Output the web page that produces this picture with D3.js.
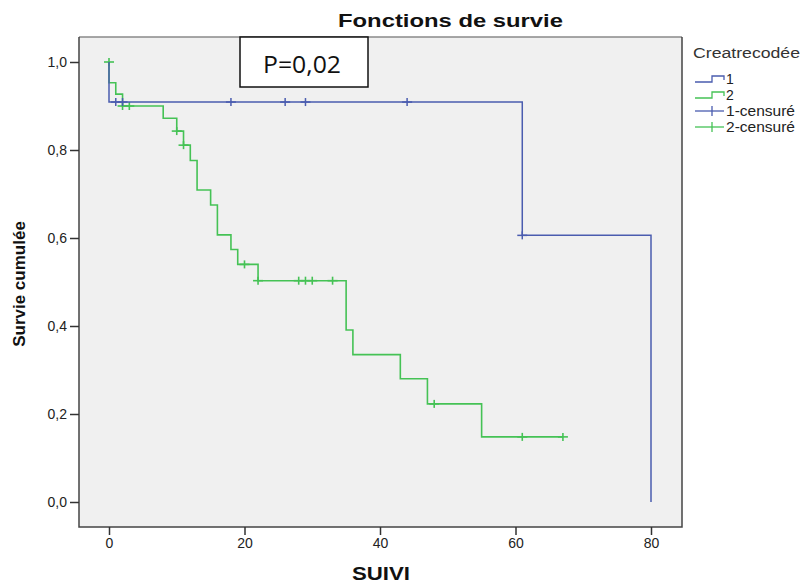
<!DOCTYPE html>
<html>
<head>
<meta charset="utf-8">
<title>Fonctions de survie</title>
<script src="https://d3js.org/d3.v7.min.js"></script>
<style>
  body { margin: 0; background: #fff; font-family: "Liberation Sans", Arial, sans-serif; }
  .tick-label { font-size: 14px; fill: #222; }
  .axis-title { font-size: 18px; font-weight: bold; fill: #111; }
</style>
</head>
<body>
<div id="chart"></div>
<script>
// group 1 (blue): event times and survival after each event
var g1Times = [0, 61, 80];
var g1Surv  = [0.909, 0.606, 0.0];
var g1End   = 80;
var g1CensT = [1, 2, 18, 26, 29, 44, 61];
var g1CensS = [0.909, 0.909, 0.909, 0.909, 0.909, 0.909, 0.606];

// group 2 (green)
var g2Times = [0, 1, 2, 8, 10, 11, 12, 13, 15, 16, 18, 19, 22, 35, 36, 43, 47, 55];
var g2Surv  = [0.953, 0.927, 0.900, 0.872, 0.843, 0.811, 0.776, 0.709, 0.675, 0.607,
               0.574, 0.540, 0.503, 0.391, 0.335, 0.280, 0.223, 0.148];
var g2End   = 67;
var g2CensT = [0, 2, 3, 10, 11, 20, 22, 28, 29, 30, 33, 48, 61, 67];
var g2CensS = [1.0, 0.900, 0.900, 0.843, 0.811, 0.540, 0.503, 0.503, 0.503, 0.503, 0.503,
               0.223, 0.148, 0.148];

var xTicks = [0, 20, 40, 60, 80];
var yTicks = [0, 0.2, 0.4, 0.6, 0.8, 1.0];
var legendLabels = ["1", "2", "1-censuré", "2-censuré"];

var W = 808, H = 583;
var box = {left: 79, right: 682, top: 37, bottom: 527};
var blue = "#4a5caf", green = "#45c255";

var svg = d3.select("#chart").append("svg").attr("width", W).attr("height", H);

var x = d3.scaleLinear().domain([0, 80]).range([109, 651]);
var y = d3.scaleLinear().domain([0, 1]).range([502, 62]);

svg.append("rect")
  .attr("x", box.left).attr("y", box.top)
  .attr("width", box.right - box.left).attr("height", box.bottom - box.top)
  .attr("fill", "#f0f0f0");

// frame: top lighter, others dark
svg.append("line").attr("x1", box.left).attr("x2", box.right)
  .attr("y1", box.top).attr("y2", box.top).attr("stroke", "#8a8a8a").attr("stroke-width", 1.5);
svg.append("path")
  .attr("d", "M" + box.left + "," + box.top + "V" + box.bottom + "H" + box.right + "V" + box.top)
  .attr("fill", "none").attr("stroke", "#444").attr("stroke-width", 1.5);

// axes
var yAxis = svg.append("g").attr("transform", "translate(" + box.left + ",0)")
  .call(d3.axisLeft(y).tickValues(yTicks).tickSize(9).tickPadding(3)
    .tickFormat(function(d) { return d3.format(".1f")(d).replace(".", ","); }));
var xAxis = svg.append("g").attr("transform", "translate(0," + box.bottom + ")")
  .call(d3.axisBottom(x).tickValues(xTicks).tickSize(8).tickPadding(3));
[xAxis, yAxis].forEach(function(a) {
  a.select(".domain").remove();
  a.selectAll(".tick line").attr("stroke", "#333").attr("stroke-width", 1.5);
  a.selectAll(".tick text").attr("class", "tick-label")
    .style("font-family", "'Liberation Sans', Arial, sans-serif").style("font-size", "14px");
});

var line = d3.line().curve(d3.curveStepAfter)
  .x(function(d) { return x(d[0]); })
  .y(function(d) { return y(d[1]); });

function stepPoints(times, surv, end) {
  var pts = [[0, 1]];
  times.forEach(function(t, i) { pts.push([t, surv[i]]); });
  pts.push([end, surv[surv.length - 1]]);
  return pts;
}

function drawGroup(times, surv, end, censT, censS, color, width) {
  svg.append("path")
    .datum(stepPoints(times, surv, end))
    .attr("d", line)
    .attr("fill", "none").attr("stroke", color).attr("stroke-width", width);
  var c = svg.append("g").selectAll("g").data(censT).join("g")
    .attr("transform", function(d, i) { return "translate(" + x(d) + "," + y(censS[i]) + ")"; });
  c.append("line").attr("x1", -5).attr("x2", 5).attr("stroke", color).attr("stroke-width", width);
  c.append("line").attr("y1", -4).attr("y2", 4).attr("stroke", color).attr("stroke-width", width);
}

drawGroup(g2Times, g2Surv, g2End, g2CensT, g2CensS, green, 1.6);
drawGroup(g1Times, g1Surv, g1End, g1CensT, g1CensS, blue, 1.5);

// P value box
svg.append("rect").attr("x", 240).attr("y", 37).attr("width", 128).attr("height", 50)
  .attr("fill", "#fff").attr("stroke", "#111").attr("stroke-width", 1.5);
svg.append("text").attr("x", 302).attr("y", 73).attr("text-anchor", "middle")
  .style("font-family", "'Open Sans', 'Liberation Sans', sans-serif").style("font-size", "24px")
  .attr("textLength", 78).attr("lengthAdjust", "spacingAndGlyphs")
  .attr("fill", "#111").text("P=0,02");

// titles
svg.append("text").attr("class", "axis-title").attr("x", 338).attr("y", 27)
  .attr("textLength", 225).attr("lengthAdjust", "spacingAndGlyphs")
  .text("Fonctions de survie");
svg.append("text").attr("class", "axis-title").attr("x", 352).attr("y", 580)
  .attr("textLength", 58).attr("lengthAdjust", "spacingAndGlyphs")
  .text("SUIVI");
svg.append("text").attr("class", "axis-title").style("font-size", "17px")
  .attr("transform", "translate(25,284) rotate(-90)")
  .attr("text-anchor", "middle").text("Survie cumulée");

// legend
var lg = svg.append("g").attr("transform", "translate(693,0)");
lg.append("text").attr("x", 0).attr("y", 58).style("font-size", "14px").attr("fill", "#333")
  .attr("textLength", 107).attr("lengthAdjust", "spacingAndGlyphs")
  .text("Creatrecodée");
var ly = [79, 95, 111, 127];
var lcol = [blue, green, blue, green];
legendLabels.forEach(function(lab, i) {
  var yy = ly[i];
  if (i < 2) {
    lg.append("path")
      .attr("d", "M2," + (yy + 3) + "H19V" + (yy - 3) + "H31V" + (yy + 1))
      .attr("fill", "none").attr("stroke", lcol[i]).attr("stroke-width", 1.3);
  } else {
    lg.append("line").attr("x1", 2).attr("x2", 31).attr("y1", yy).attr("y2", yy)
      .attr("stroke", lcol[i]).attr("stroke-width", 1.3);
    lg.append("line").attr("x1", 19).attr("x2", 19).attr("y1", yy - 5).attr("y2", yy + 5)
      .attr("stroke", lcol[i]).attr("stroke-width", 1.3);
  }
  var t = lg.append("text").attr("x", 33).attr("y", yy + 5).style("font-size", "14px")
    .attr("fill", "#222").text(lab);
  if (i >= 2) t.attr("textLength", 69).attr("lengthAdjust", "spacingAndGlyphs");
});
</script>
</body>
</html>
